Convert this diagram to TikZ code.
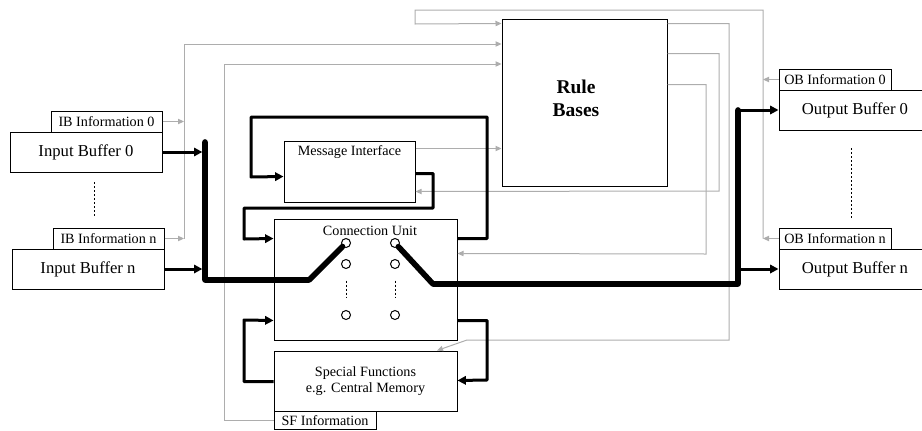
\documentclass[tikz,border=0pt]{standalone}
\usepackage{fontspec}
\setmainfont{Liberation Serif}
\usetikzlibrary{arrows.meta,calc}

\begin{document}
\begin{tikzpicture}[x=0.6pt,y=-0.6pt,
	box/.style={draw,line width=0.6pt,inner sep=0pt,font=\fontsize{10}{12}\selectfont},
	infobox/.style={draw,line width=0.6pt,inner sep=0pt,font=\fontsize{8.5}{10}\selectfont},
	inf/.style={draw=black!32,line width=0.6pt,-{Triangle[length=3.6pt,width=3.2pt]}},
	conn/.style={line width=1.8pt,line join=round,-{Triangle[length=5pt,width=5pt]}},
	bus/.style={line width=3.4pt,line join=round,line cap=round},
	pin/.style={circle,draw,line width=0.6pt,minimum size=5.4pt,inner sep=0pt},
	vdots/.style={line width=0.6pt,dash pattern=on 1.2pt off 1.2pt}]
	\clip (0,0) rectangle (922,430);
	
	\node[box,minimum width=91.2pt,minimum height=24pt] (ib0) at (86,152) {Input Buffer 0};
	\node[infobox,minimum width=66.6pt,minimum height=12.6pt] (ibi0) at (106.5,121.5) {IB Information 0};
	\node[box,minimum width=91.2pt,minimum height=24pt] (ibn) at (88,269) {Input Buffer n};
	\node[infobox,minimum width=66.6pt,minimum height=12.6pt] (ibin) at (108.5,238.5) {IB Information n};
	
	\node[box,minimum width=99pt,minimum height=100.2pt] (rb) at (584.5,102.5) {};
	\node[align=center,font=\bfseries\fontsize{11.7}{13.8}\selectfont] (rbt) at (576,98) {Rule\\Bases};
	
	\node[box,minimum width=78.6pt,minimum height=36.6pt] (mi) at (349.5,171.5) {};
	\node[font=\fontsize{8.5}{10}\selectfont] (mit) at (349.5,152) {Message Interface};
	
	\node[box,minimum width=109.8pt,minimum height=72.6pt] (cu) at (365.5,279.5) {};
	\node[font=\fontsize{8.5}{10}\selectfont] (cut) at (370,231) {Connection Unit};
	\foreach \y [count=\i] in {243,264,315} {
		\node[pin] (cl\i) at (346,\y) {};
		\node[pin] (cr\i) at (395,\y) {};
	}
	\draw[vdots,shorten <=7pt,shorten >=7pt] (cl2) -- (cl3);
	\draw[vdots,shorten <=7pt,shorten >=7pt] (cr2) -- (cr3);
	
	\node[box,align=center,minimum width=109.8pt,minimum height=36pt,font=\fontsize{8.5}{9.6}\selectfont] (sf) at (365.5,381) {Special Functions\\e.g. Central Memory};
	\node[infobox,minimum width=61.2pt,minimum height=11.1pt] (sfi) at (325,420.25) {SF Information};
	
	\node[box,minimum width=91.2pt,minimum height=24pt] (ob0) at (855,110) {Output Buffer 0};
	\node[infobox,minimum width=67.2pt,minimum height=12.6pt] (obi0) at (835,79.5) {OB Information 0};
	\node[box,minimum width=91.2pt,minimum height=24pt] (obn) at (855,269) {Output Buffer n};
	\node[infobox,minimum width=67.2pt,minimum height=12.6pt] (obin) at (835,238.5) {OB Information n};
	
	\draw[vdots] (94,182) -- (94,217);
	\draw[vdots] (851,148) -- (851,218);
	
	% information paths
	\coordinate (ibj) at (184,44);
	\coordinate (sfj) at (224,64);
	\coordinate (obj) at (763,10);
	\draw[inf] (ibi0) -- (ibi0 -| ibj);
	\draw[inf] (ibin) -- (ibin -| ibj);
	\draw[inf] (ibin -| ibj) -- (ibj) -- (ibj -| rb.west);
	\draw[inf] (sfi) -| (sfj) -- (sfj -| rb.west);
	\draw[inf] (obi0) -- (obi0 -| obj);
	\draw[inf] (obin) -- (obin -| obj);
	\draw[inf] (obin -| obj) -- (obj) -| (415,24) -- ($(rb.north west)+(0,5)$);
	\draw[inf] ($(mi.north east)+(0,8)$) -- ($(rb.west |- mi.north)+(0,8)$);
	\draw[inf] ($(rb.north east)+(0,5)$) -| (729,340) -- (467,340) -- ($(sf.north)+(71.5,0)$);
	\draw[inf] ($(rb.north east)+(0,35)$) -| (719,191) -- ($(mi.south east)+(0,-11)$);
	\draw[inf] ($(rb.north east)+(0,66)$) -| (706,254) -- ($(cu.north east)+(0,35)$);
	
	% switching bus
	\coordinate (busl) at (205,142);
	\coordinate (busr) at (738,110);
	\draw[bus] (busl) -- (205,280) -- (309,280) -- (cl1);
	\draw[bus] (cr1) -- (433,284) -- (738,284) -- (busr);
	\draw[conn,shorten >=1.6pt] (ib0) -- (ib0 -| busl);
	\draw[conn,shorten >=1.6pt] (ibn) -- (ibn -| busl);
	\draw[conn] (busr |- ob0) -- (ob0);
	\draw[conn] (busr |- obn) -- (obn);
	
	\draw[conn] ($(cu.north east)+(0,20)$) -| (487,117) -| (251,177) -- ($(mi.north west)+(0,36)$);
	\draw[conn] ($(mi.north east)+(0,33)$) -| (433,208) -| (244,239) -- ($(cu.north west)+(0,20)$);
	\draw[conn] ($(cu.south east)+(0,-20)$) -| (487,380) -- ($(sf.south east)+(0,-31)$);
	\draw[conn] ($(sf.south west)+(0,-30)$) -| (244,320) -- ($(cu.south west)+(0,-20)$);
\end{tikzpicture}
\end{document}
